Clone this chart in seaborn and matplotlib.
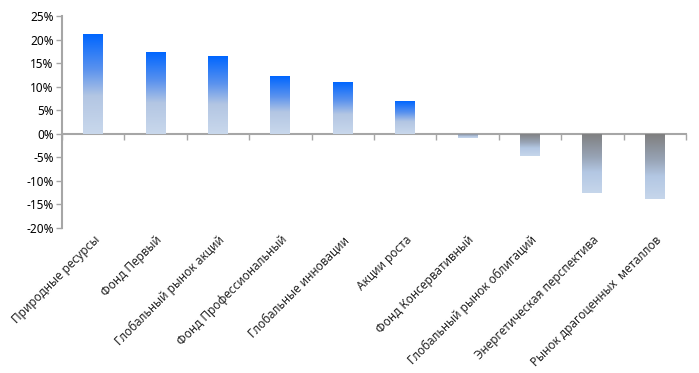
import numpy as np
import pandas as pd
import matplotlib
matplotlib.use("Agg")
import matplotlib.pyplot as plt
from matplotlib.colors import LinearSegmentedColormap
from matplotlib.ticker import FuncFormatter
import seaborn as sns

# Data (returns, %)
funds = ["Природные ресурсы", "Фонд Первый", "Глобальный рынок акций",
         "Фонд Профессиональный", "Глобальные инновации", "Акции роста",
         "Фонд Консервативный", "Глобальный рынок облигаций",
         "Энергетическая перспектива", "Рынок драгоценных  металлов"]
returns = [21.2, 17.4, 16.5, 12.3, 11.0, 7.0, -1.0, -4.8, -12.6, -13.8]
y_ticks = [-20, -15, -10, -5, 0, 5, 10, 15, 20, 25]

df = pd.DataFrame({"fund": funds, "ret": returns})

sns.set_theme(style="white")
plt.rcParams["font.family"] = ["Noto Sans", "DejaVu Sans"]

fig = plt.figure(figsize=(6.99, 3.73), dpi=100)
ax = fig.add_axes([0.0887, 0.389, 0.8927, 0.568])

sns.barplot(data=df, x="fund", y="ret", width=0.32, color="#0066ff", ax=ax)

ymin, ymax = -20, 25

# gradient fills: top -> bottom of each bar
pos_cmap = LinearSegmentedColormap.from_list(
    "pos", [(0, "#0066ff"), (0.35, "#5a92ee"), (0.62, "#b3c6e3"), (1, "#c9d8ec")])
neg_cmap = LinearSegmentedColormap.from_list(
    "neg", [(0, "#7f7f7f"), (0.4, "#98a4b6"), (0.65, "#b3c7e3"), (1, "#c6d6eb")])
grad = np.linspace(0, 1, 256).reshape(-1, 1)
for patch in list(ax.patches):
    x0, w = patch.get_x(), patch.get_width()
    y0, h = patch.get_y(), patch.get_height()
    lo, hi = min(y0, y0 + h), max(y0, y0 + h)
    cmap = pos_cmap if h >= 0 else neg_cmap
    img = ax.imshow(grad, cmap=cmap, aspect="auto", origin="upper",
                    extent=[x0, x0 + w, lo, hi], zorder=2,
                    interpolation="bilinear")
    img.set_clip_path(patch)
    patch.set_facecolor("none")
    patch.set_edgecolor("none")

ax.set_xlim(-0.5, len(funds) - 0.5)
ax.set_ylim(ymin, ymax)

# axes styling
grey = "#a6a6a6"
for s in ["top", "right", "bottom"]:
    ax.spines[s].set_visible(False)
ax.spines["left"].set_color(grey)
ax.spines["left"].set_linewidth(1.5)
ax.set_yticks(y_ticks)
ax.yaxis.set_major_formatter(FuncFormatter(lambda v, p: f"{int(v)}%"))
ax.tick_params(axis="y", direction="out", length=4, width=1, color=grey,
               labelsize=8.5, pad=2, left=True, labelcolor="black")
ax.tick_params(axis="x", length=0, labelsize=8.5, pad=4)
ax.set_xticks(range(len(funds)))
ax.set_xticklabels(funds, rotation=45, ha="right", rotation_mode="anchor")
ax.set_xlabel("")
ax.set_ylabel("")
ax.grid(False)

# zero axis with ticks between categories
loc = (0 - ymin) / (ymax - ymin)
sec = ax.secondary_xaxis(loc)
sec.set_xticks(np.arange(-0.5, len(funds), 1))
sec.tick_params(axis="x", direction="out", length=4, width=1, color=grey,
                labelbottom=False)
sec.spines["bottom"].set_color(grey)
sec.spines["bottom"].set_linewidth(1.5)

fig.savefig("out.png", dpi=100)
